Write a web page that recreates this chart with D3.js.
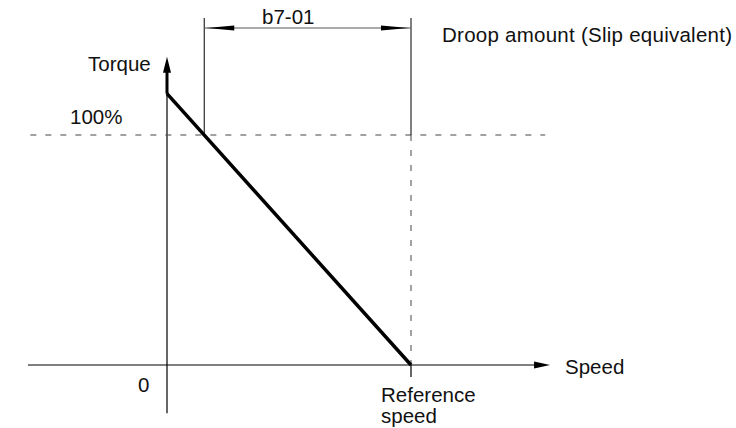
<!DOCTYPE html>
<html>
<head>
<meta charset="utf-8">
<script src="https://cdn.jsdelivr.net/npm/d3@7"></script>
<style>
  html, body { margin: 0; padding: 0; background: #fff; }
  svg { display: block; }
  text { font-family: "Liberation Sans", Arial, Helvetica, sans-serif; font-size: 20.5px; fill: #111; }
</style>
</head>
<body>
<svg id="chart" width="736" height="428"></svg>
<script>
// Droop characteristic: torque falls linearly from its zero-speed value to 0 at reference speed
const droopLine = [
  { speed: 0, torque: 118 },
  { speed: 100, torque: 0 }
];
const ratedTorque = 100;       // 100% torque reference level
const referenceSpeed = 100;    // speed where torque reaches zero
const labels = {
  torqueAxis: "Torque",
  speedAxis: "Speed",
  rated: "100%",
  origin: "0",
  reference: ["Reference", "speed"],
  bracket: "b7-01",
  droop: "Droop amount (Slip equivalent)"
};

const svg = d3.select("#chart");

// scales: origin at (167, 365), reference speed at x=411, 100% torque at y=135
const x = d3.scaleLinear().domain([0, 100]).range([167, 411]);
const y = d3.scaleLinear().domain([0, 100]).range([365, 135]);

const dash = "6 9";

// speed where the droop line crosses the rated torque level
const t0 = droopLine[0].torque, t1 = droopLine[1].torque;
const s0 = droopLine[0].speed, s1 = droopLine[1].speed;
const crossSpeed = s0 + (ratedTorque - t0) / (t1 - t0) * (s1 - s0);

// horizontal (speed) axis with arrow
const hxStart = x(-57), hxEnd = x(157);
svg.append("line")
  .attr("x1", hxStart).attr("x2", hxEnd - 12)
  .attr("y1", y(0)).attr("y2", y(0))
  .attr("stroke", "#000").attr("stroke-width", 1.2);
svg.append("path")
  .attr("d", `M${hxEnd},${y(0)} L${hxEnd - 16},${y(0) - 3.5} L${hxEnd - 16},${y(0) + 3.5} Z`)
  .attr("fill", "#000");

// vertical (torque) axis with arrow
const vyBottom = y(-21), vyTop = y(134);
svg.append("line")
  .attr("x1", x(0)).attr("x2", x(0))
  .attr("y1", vyBottom).attr("y2", vyTop + 12)
  .attr("stroke", "#000").attr("stroke-width", 1.2);
svg.append("line")
  .attr("x1", x(0)).attr("x2", x(0))
  .attr("y1", y(t0)).attr("y2", vyTop + 12)
  .attr("stroke", "#000").attr("stroke-width", 3);
svg.append("path")
  .attr("d", `M${x(0)},${vyTop} L${x(0) - 4},${vyTop + 16} L${x(0) + 4},${vyTop + 16} Z`)
  .attr("fill", "#000");

// rated torque dashed level
svg.append("line")
  .attr("x1", x(-56)).attr("x2", x(155))
  .attr("y1", y(ratedTorque)).attr("y2", y(ratedTorque))
  .attr("stroke", "#444").attr("stroke-width", 1)
  .attr("stroke-dasharray", dash);

// reference speed: dashed drop line and tick below the axis
svg.append("line")
  .attr("x1", x(referenceSpeed)).attr("x2", x(referenceSpeed))
  .attr("y1", y(ratedTorque)).attr("y2", y(0))
  .attr("stroke", "#444").attr("stroke-width", 1)
  .attr("stroke-dasharray", dash);
svg.append("line")
  .attr("x1", x(referenceSpeed)).attr("x2", x(referenceSpeed))
  .attr("y1", y(0)).attr("y2", y(0) + 12)
  .attr("stroke", "#000").attr("stroke-width", 1.2);

// droop characteristic line
const line = d3.line().x(d => x(d.speed)).y(d => y(d.torque));
svg.append("path")
  .datum(droopLine)
  .attr("d", line)
  .attr("fill", "none")
  .attr("stroke", "#000")
  .attr("stroke-width", 3.5)
  .attr("stroke-linecap", "butt");

// b7-01 dimension bracket
const bTop = 18, bY = 28;
const bl = x(crossSpeed), br = x(referenceSpeed);
svg.append("line")
  .attr("x1", bl).attr("x2", bl).attr("y1", bTop).attr("y2", y(ratedTorque))
  .attr("stroke", "#000").attr("stroke-width", 1);
svg.append("line")
  .attr("x1", br).attr("x2", br).attr("y1", bTop).attr("y2", y(ratedTorque))
  .attr("stroke", "#000").attr("stroke-width", 1);
svg.append("line")
  .attr("x1", bl).attr("x2", br).attr("y1", bY).attr("y2", bY)
  .attr("stroke", "#555").attr("stroke-width", 1);
svg.append("path")
  .attr("d", `M${bl + 2},${bY} L${bl + 30},${bY - 2.5} L${bl + 30},${bY + 2.5} Z`)
  .attr("fill", "#000");
svg.append("path")
  .attr("d", `M${br - 2},${bY} L${br - 30},${bY - 2.5} L${br - 30},${bY + 2.5} Z`)
  .attr("fill", "#000");

// text labels
svg.append("text").attr("x", 262).attr("y", 24).text(labels.bracket);
svg.append("text").attr("x", 442).attr("y", 42).attr("textLength", 290).text(labels.droop);
svg.append("text").attr("x", 88).attr("y", 71).text(labels.torqueAxis);
svg.append("text").attr("x", 70).attr("y", 124).text(labels.rated);
svg.append("text").attr("x", 138).attr("y", 392).text(labels.origin);
svg.append("text").attr("x", 565).attr("y", 374).text(labels.speedAxis);
svg.append("text").attr("x", 381).attr("y", 402).text(labels.reference[0]);
svg.append("text").attr("x", 381).attr("y", 423).text(labels.reference[1]);
</script>
</body>
</html>
